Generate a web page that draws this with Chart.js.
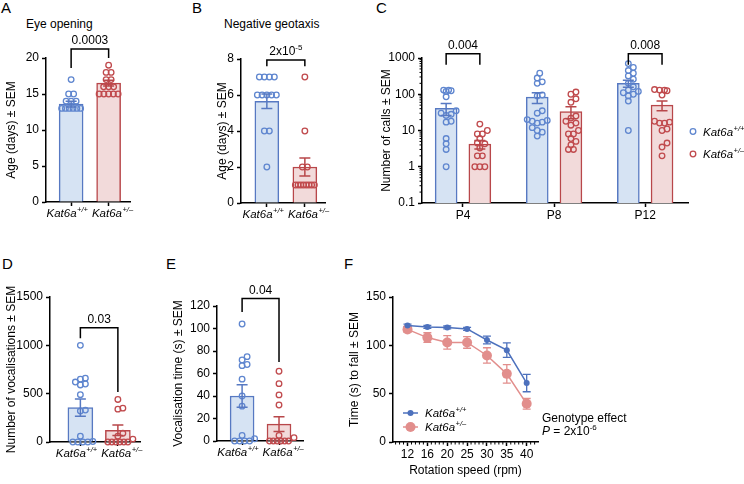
<!DOCTYPE html>
<html>
<head>
<meta charset="utf-8">
<title>Kat6a phenotypes</title>
<script src="https://cdn.jsdelivr.net/npm/chart.js@4.4.1/dist/chart.umd.min.js"></script>
<style>
  body { margin: 0; background: #fff; }
  #fig { position: relative; width: 744px; height: 484px; overflow: hidden;
         font-family: 'Liberation Sans', Arial, Helvetica, sans-serif; color: #000; }
  #fig canvas { position: absolute; left: 0; top: 0; }
  .lab { position: absolute; font-size: 15px; line-height: 15px; }
  .ttl { position: absolute; font-size: 12px; line-height: 12px; white-space: nowrap; }
</style>
</head>
<body>
<div id="fig">
  <div class="lab" style="left:1px;top:0px">A</div>
  <div class="lab" style="left:192px;top:0px">B</div>
  <div class="lab" style="left:376px;top:0px">C</div>
  <div class="lab" style="left:2px;top:256px">D</div>
  <div class="lab" style="left:166px;top:256px">E</div>
  <div class="lab" style="left:344px;top:256px">F</div>
  <div class="ttl" style="left:26px;top:18px">Eye opening</div>
  <div class="ttl" style="left:224px;top:18px">Negative geotaxis</div>
  <canvas id="chartA" width="744" height="484"></canvas>
  <canvas id="chartB" width="744" height="484"></canvas>
  <canvas id="chartC" width="744" height="484"></canvas>
  <canvas id="chartD" width="744" height="484"></canvas>
  <canvas id="chartE" width="744" height="484"></canvas>
  <canvas id="chartF" width="744" height="484"></canvas>
</div>
<script>
// genotype superscripts
const genoSup = ['+/+', '+/\u2013'];

// A - eye opening (days)
const eyeMean = [13.6, 16.5];
const eyeSem = [0.4, 0.4];
const eyeWT = [17, 15, 15, 14, 14, 14, 13, 13, 13, 13, 13, 13];
const eyeHet = [19, 18, 18, 17, 17, 16, 16, 16, 15, 15, 15, 15, 15];

// B - negative geotaxis (days)
const geoMean = [5.65, 2.0];
const geoSem = [0.4, 0.5];
const geoWT = [7, 7, 7, 7, 6, 6, 6, 6, 6, 4, 4, 2];
const geoHet = [7, 4, 2, 2, 1, 1, 1, 1, 1, 1, 1, 1];

// C - number of calls
const ages = ['P4', 'P8', 'P12'];
const callsMeanWT = [41, 83, 200];
const callsSemWT = [15, 27, 45];
const callsMeanHet = [4.2, 33, 50];
const callsSemHet = [1.1, 12, 15];
const callsWT = [
  [130, 130, 125, 120, 85, 35, 30, 28, 26, 18, 17, 6, 4.3, 3, 1],
  [380, 280, 220, 200, 95, 90, 35, 30, 20, 19, 18, 17, 16, 12, 10, 9, 7],
  [700, 550, 450, 380, 320, 260, 200, 160, 130, 120, 110, 100, 90, 65, 10]
];
const callsHet = [
  [15, 10, 8, 8, 6, 4.5, 4.3, 3.3, 2, 2, 1, 1, 1],
  [115, 100, 75, 60, 25, 22, 18, 16, 14, 10, 8, 8, 6, 5, 4, 3, 3],
  [135, 130, 130, 125, 95, 18, 17, 16, 16, 11, 10, 4.5, 3.5, 2]
];

// D - number of vocalisations
const vocMean = [356, 121];
const vocSem = [90, 55];
const vocWT = [1000, 660, 650, 620, 600, 590, 490, 330, 320, 60, 5, 0, 0, 0, 0];
const vocHet = [440, 350, 340, 90, 60, 30, 0, 0, 0, 0, 0, 0];

// E - vocalisation time (s)
const timeMean = [40, 15];
const timeSem = [10, 6.5];
const timeWT = [104, 75, 72, 68, 67, 55, 40, 31, 5, 2, 0, 0, 0, 0];
const timeHet = [62, 51, 41, 32, 5, 3, 0, 0, 0, 0, 0, 0];

// F - rotarod
const speeds = [12, 16, 20, 25, 30, 35, 40];
const fallWT = [120.5, 119, 118.5, 117, 105.5, 95, 61];
const fallWTSem = [1.5, 1.5, 1.5, 1.5, 4, 7.5, 9];
const fallHet = [116.5, 108, 103, 103, 89.5, 70.5, 39.5];
const fallHetSem = [3, 5, 7, 6, 8, 9.5, 5.5];

const FONT = "'Liberation Sans', Arial, Helvetica, sans-serif";
Chart.defaults.font.family = FONT;
Chart.defaults.font.size = 12;
Chart.defaults.color = '#000';

const WT = {line: '#5779c2', fill: '#d6e3f3', dot: '#5f86cf'};
const HET = {line: '#b8474a', fill: '#f2dada', dot: '#c04a4d'};
const F_BLUE = '#4d71bd';
const F_RED = '#e28e8c';

// place the chart area: y axis line at axisX, title centred at titleX
function frame(axisX, top, right, bottom, titleX, xH) {
  const half = 7.2;
  return {
    yW: axisX - (titleX - half),
    xH: xH,
    padding: {left: titleX - half, top: top, right: 744 - right, bottom: 484 - bottom - xH}
  };
}

function yAxis(fr, title, extra) {
  return Object.assign({
    position: 'left',
    afterFit: s => { s.width = fr.yW; },
    border: {color: '#000', width: 1.5},
    grid: {drawOnChartArea: false, color: '#000', tickLength: 4, tickWidth: 1.5},
    ticks: {padding: 3, color: '#000', font: {size: 12}},
    title: {display: true, text: title, padding: 0, font: {size: 12}}
  }, extra);
}

function xAxis(fr, min, max, tickVals, labelFn, extra) {
  return Object.assign({
    type: 'linear', min: min, max: max, offset: false,
    afterFit: s => { s.height = fr.xH; },
    afterBuildTicks: s => { s.ticks = tickVals.map(v => ({value: v})); },
    border: {color: '#000', width: 1.5},
    grid: {drawOnChartArea: false, offset: false, color: '#000', tickLength: 4, tickWidth: 1.5},
    ticks: {callback: labelFn, padding: 1, autoSkip: false, maxRotation: 0, color: '#000', font: {size: 12}}
  }, extra);
}

// "Kat6a" in italics with a raised genotype
function genoWidth(ctx, sup) {
  ctx.font = 'italic 11.5px ' + FONT;
  const w1 = ctx.measureText('Kat6a').width;
  ctx.font = 'italic 7.5px ' + FONT;
  return w1 + 0.5 + ctx.measureText(sup).width;
}
function drawGeno(ctx, x, y, sup) {
  ctx.save();
  ctx.fillStyle = '#000';
  ctx.textAlign = 'left';
  ctx.textBaseline = 'alphabetic';
  ctx.font = 'italic 11.5px ' + FONT;
  ctx.fillText('Kat6a', x, y);
  const w1 = ctx.measureText('Kat6a').width;
  ctx.font = 'italic 7.5px ' + FONT;
  ctx.fillText(sup, x + w1 + 0.5, y - 5);
  ctx.restore();
}

// text with an optional superscript tail, centred at x
function drawSupText(ctx, x, y, main, sup) {
  ctx.save();
  ctx.fillStyle = '#000';
  ctx.textAlign = 'left';
  ctx.textBaseline = 'alphabetic';
  ctx.font = '12px ' + FONT;
  const w1 = ctx.measureText(main).width;
  ctx.font = '8px ' + FONT;
  const w2 = sup ? ctx.measureText(sup).width : 0;
  const x0 = x - (w1 + w2) / 2;
  ctx.font = '12px ' + FONT;
  ctx.fillText(main, x0, y);
  if (sup) { ctx.font = '8px ' + FONT; ctx.fillText(sup, x0 + w1, y - 5); }
  ctx.restore();
}

function drawBracket(ctx, xs, ys, b) {
  const x0 = xs.getPixelForValue(b.from), x1 = xs.getPixelForValue(b.to);
  const yt = ys.getPixelForValue(b.top);
  const y0 = ys.getPixelForValue(b.legs[0]), y1 = ys.getPixelForValue(b.legs[1]);
  ctx.save();
  ctx.strokeStyle = '#000';
  ctx.lineWidth = 1.5;
  ctx.beginPath();
  ctx.moveTo(x0, y0); ctx.lineTo(x0, yt); ctx.lineTo(x1, yt); ctx.lineTo(x1, y1);
  ctx.stroke();
  ctx.restore();
  drawSupText(ctx, (x0 + x1) / 2, yt - 5, b.text, b.sup);
}

// simple beeswarm: equal values form centred rows, others dodge sideways
function swarm(chart, center, values, maxW) {
  const xs = chart.scales.x, ys = chart.scales.y;
  const cx = xs.getPixelForValue(center);
  const step = 5;
  const sorted = values.slice().sort((a, b) => a - b);
  const placed = [];
  let i = 0;
  while (i < sorted.length) {
    let j = i;
    while (j < sorted.length && sorted[j] === sorted[i]) j++;
    const n = j - i;
    const py = ys.getPixelForValue(sorted[i]);
    if (n > 1) {
      const sp = Math.min(step, maxW / (n - 1));
      for (let k = 0; k < n; k++) placed.push({px: cx + (k - (n - 1) / 2) * sp, py: py, v: sorted[i]});
    } else {
      let off = 0;
      for (let k = 0; k < 40; k++) {
        off = (k % 2 ? 1 : -1) * Math.ceil(k / 2) * step / 2;
        const ok = placed.every(p => Math.hypot(p.px - cx - off, p.py - py) >= step);
        if (ok) break;
      }
      placed.push({px: cx + off, py: py, v: sorted[i]});
    }
    i = j;
  }
  return placed.map(p => ({x: xs.getValueForPixel(p.px), y: p.v}));
}

// bar + dots panel
function barPanel(id, fr, xr, yScale, groups, opts) {
  const decor = {
    id: 'decor',
    afterDatasetsDraw(chart) {
      const {ctx, scales: {x: xs, y: ys}} = chart;
      ctx.save();
      ctx.lineWidth = 1.5;
      groups.forEach(g => {
        const px = xs.getPixelForValue(g.x);
        const hi = ys.getPixelForValue(g.mean + g.sem);
        const lo = ys.getPixelForValue(g.mean - g.sem);
        ctx.strokeStyle = g.col.line;
        ctx.beginPath();
        ctx.moveTo(px, hi); ctx.lineTo(px, lo);
        ctx.moveTo(px - 5.5, hi); ctx.lineTo(px + 5.5, hi);
        ctx.moveTo(px - 5.5, lo); ctx.lineTo(px + 5.5, lo);
        ctx.stroke();
      });
      ctx.restore();
      (opts.brackets || []).forEach(b => drawBracket(ctx, xs, ys, b));
      if (opts.genoLabels) {
        const base = chart.chartArea.bottom + 15;
        const c0 = xs.getPixelForValue(groups[0].x), c1 = xs.getPixelForValue(groups[1].x);
        const w0 = genoWidth(ctx, genoSup[0]), w1 = genoWidth(ctx, genoSup[1]);
        let l0 = c0 - w0 / 2, l1 = c1 - w1 / 2;
        const gap = l1 - (l0 + w0);
        if (gap < 4) { l0 -= (4 - gap) / 2; l1 += (4 - gap) / 2; }
        drawGeno(ctx, l0, base, genoSup[0]);
        drawGeno(ctx, l1, base, genoSup[1]);
      }
      if (opts.extra) opts.extra(chart);
    }
  };
  const datasets = [{
    type: 'bar', order: 2,
    data: groups.map(g => ({x: g.x, y: g.mean})),
    backgroundColor: groups.map(g => g.col.fill),
    borderColor: groups.map(g => g.col.line),
    borderWidth: 1.5, borderSkipped: 'start', barThickness: opts.barW
  }].concat(groups.map(g => ({
    type: 'scatter', order: 1, clip: false,
    data: g.dots.map(v => ({x: g.x, y: v})),
    pointRadius: 2.8, pointBorderWidth: 1.3,
    pointBorderColor: g.col.dot, pointBackgroundColor: 'rgba(0,0,0,0)'
  })));
  const chart = new Chart(document.getElementById(id), {
    type: 'bar',
    data: {datasets: datasets},
    options: {
      responsive: false, animation: false, devicePixelRatio: 1,
      layout: {padding: fr.padding},
      plugins: {legend: {display: false}, tooltip: {enabled: false}},
      scales: {
        x: xAxis(fr, xr[0], xr[1], opts.xTicks, opts.xLabel || (() => '')),
        y: yScale
      }
    },
    plugins: [decor]
  });
  groups.forEach((g, k) => {
    chart.data.datasets[k + 1].data = swarm(chart, g.x, g.dots, opts.barW - 5);
  });
  chart.update('none');
  return chart;
}

function pair(means, sems, wt, het) {
  return [
    {x: 0, mean: means[0], sem: sems[0], dots: wt, col: WT},
    {x: 1, mean: means[1], sem: sems[1], dots: het, col: HET}
  ];
}

const plainTicks = step => ({stepSize: step, padding: 3, font: {size: 12}, callback: v => String(v)});

// ---- A ----
const frA = frame(46, 58, 130, 202, 12, 22);
barPanel('chartA', frA, [-0.67, 1.57],
  yAxis(frA, 'Age (days) \u00b1 SEM', {min: 0, max: 20, ticks: plainTicks(5)}),
  pair(eyeMean, eyeSem, eyeWT, eyeHet),
  {barW: 24, xTicks: [0, 1], genoLabels: true,
   brackets: [{from: 0, to: 1, top: 21.25, legs: [18.6, 20], text: '0.0003'}]});

// ---- B ----
const frB = frame(241, 59, 325, 203, 223, 22);
barPanel('chartB', frB, [-0.68, 1.53],
  yAxis(frB, 'Age (days) \u00b1 SEM', {min: 0, max: 8, ticks: plainTicks(2)}),
  pair(geoMean, geoSem, geoWT, geoHet),
  {barW: 24, xTicks: [0, 1], genoLabels: true,
   brackets: [{from: 0, to: 1, top: 7.94, legs: [7.6, 7.6], text: '2x10', sup: '-5'}]});

// ---- C ----
const frC = frame(422, 58, 688, 203, 387, 22);
const cGroups = [];
ages.forEach((a, i) => {
  cGroups.push({x: i - 0.185, mean: callsMeanWT[i], sem: callsSemWT[i], dots: callsWT[i], col: WT});
  cGroups.push({x: i + 0.185, mean: callsMeanHet[i], sem: callsSemHet[i], dots: callsHet[i], col: HET});
});
barPanel('chartC', frC, [-0.45, 2.47],
  yAxis(frC, 'Number of calls \u00b1 SEM', {
    type: 'logarithmic', min: 0.1, max: 1000,
    afterBuildTicks: s => { s.ticks = [0.1, 1, 10, 100, 1000].map(v => ({value: v})); },
    ticks: {callback: v => String(v), padding: 3, font: {size: 12}}
  }),
  cGroups,
  {barW: 22, xTicks: [0, 1, 2], xLabel: v => ages[v],
   brackets: [
     {from: 0 - 0.185, to: 0 + 0.185, top: 1300, legs: [650, 650], text: '0.004'},
     {from: 2 - 0.185, to: 2 + 0.185, top: 1300, legs: [650, 650], text: '0.008'}
   ],
   extra: chart => {
     const {ctx, chartArea, scales: {y: ys}} = chart;
     ctx.save();
     // minor log ticks
     ctx.strokeStyle = '#000';
     ctx.lineWidth = 1;
     for (let d = -1; d < 3; d++) {
       for (let k = 2; k < 10; k++) {
         const py = ys.getPixelForValue(k * Math.pow(10, d));
         ctx.beginPath(); ctx.moveTo(chartArea.left - 2.5, py); ctx.lineTo(chartArea.left, py); ctx.stroke();
       }
     }
     // legend
     const lx = chartArea.right + 5;
     [[WT, genoSup[0], 131.5], [HET, genoSup[1], 154]].forEach(([col, sup, ly]) => {
       ctx.strokeStyle = col.dot;
       ctx.lineWidth = 1.3;
       ctx.beginPath(); ctx.arc(lx, ly, 2.8, 0, Math.PI * 2); ctx.stroke();
       drawGeno(ctx, lx + 10, ly + 4, sup);
     });
     ctx.restore();
   }});

// ---- D ----
const frD = frame(50, 297, 140, 442, 11.5, 22);
barPanel('chartD', frD, [-0.81, 1.59],
  yAxis(frD, 'Number of vocalisations \u00b1 SEM', {min: 0, max: 1500, ticks: plainTicks(500)}),
  pair(vocMean, vocSem, vocWT, vocHet),
  {barW: 25, xTicks: [0, 1], genoLabels: true,
   brackets: [{from: 0, to: 1, top: 1183, legs: [1073, 517], text: '0.03'}]});

// ---- E ----
const frE = frame(217, 306, 303, 441, 179, 22);
barPanel('chartE', frE, [-0.68, 1.65],
  yAxis(frE, 'Vocalisation time (s) \u00b1 SEM', {min: 0, max: 120, ticks: plainTicks(20)}),
  pair(timeMean, timeSem, timeWT, timeHet),
  {barW: 24, xTicks: [0, 1], genoLabels: true,
   brackets: [{from: 0, to: 1, top: 126.6, legs: [114.7, 70.3], text: '0.04'}]});

// ---- F ----
const frF = frame(393, 297, 538, 442, 355, 35.5);
const fDecor = {
  id: 'fDecor',
  beforeDatasetsDraw(chart) {
    const {ctx, scales: {x: xs, y: ys}} = chart;
    ctx.save();
    ctx.lineWidth = 1.3;
    [[fallHet, fallHetSem, F_RED], [fallWT, fallWTSem, F_BLUE]].forEach(([m, e, c]) => {
      ctx.strokeStyle = c;
      m.forEach((v, i) => {
        const px = xs.getPixelForValue(i);
        const hi = ys.getPixelForValue(v + e[i]), lo = ys.getPixelForValue(v - e[i]);
        ctx.beginPath();
        ctx.moveTo(px, hi); ctx.lineTo(px, lo);
        ctx.moveTo(px - 4, hi); ctx.lineTo(px + 4, hi);
        ctx.moveTo(px - 4, lo); ctx.lineTo(px + 4, lo);
        ctx.stroke();
      });
    });
    ctx.restore();
  },
  afterDraw(chart) {
    const {ctx, chartArea, scales: {x: xs}} = chart;
    ctx.save();
    // minor ticks along the x axis
    ctx.strokeStyle = '#000';
    ctx.lineWidth = 1;
    for (let v = Math.ceil(xs.min * 5) / 5; v <= xs.max; v += 0.2) {
      if (Math.abs(v - Math.round(v)) < 0.01) continue;
      const px = xs.getPixelForValue(v);
      ctx.beginPath(); ctx.moveTo(px, chartArea.bottom); ctx.lineTo(px, chartArea.bottom + 2.5); ctx.stroke();
    }
    // legend
    const lx = chartArea.left + 10;
    [[F_BLUE, 3, genoSup[0], 413], [F_RED, 5, genoSup[1], 427]].forEach(([c, r, sup, ly]) => {
      ctx.strokeStyle = c; ctx.fillStyle = c; ctx.lineWidth = 1.5;
      ctx.beginPath(); ctx.moveTo(lx, ly); ctx.lineTo(lx + 15, ly); ctx.stroke();
      ctx.beginPath(); ctx.arc(lx + 7.5, ly, r, 0, Math.PI * 2); ctx.fill();
      drawGeno(ctx, lx + 22, ly + 4, sup);
    });
    // genotype effect note
    const tx = chartArea.right + 4;
    ctx.fillStyle = '#000';
    ctx.textAlign = 'left';
    ctx.textBaseline = 'alphabetic';
    ctx.font = '12px ' + FONT;
    ctx.fillText('Genotype effect', tx, 422);
    ctx.font = 'italic 12px ' + FONT;
    ctx.fillText('P', tx, 435);
    const wp = ctx.measureText('P').width;
    ctx.font = '12px ' + FONT;
    ctx.fillText(' = 2x10', tx + wp, 435);
    const w2 = ctx.measureText(' = 2x10').width;
    ctx.font = '8px ' + FONT;
    ctx.fillText('-6', tx + wp + w2, 430);
    ctx.restore();
  }
};
new Chart(document.getElementById('chartF'), {
  type: 'line',
  data: {
    datasets: [
      {order: 1, data: speeds.map((s, i) => ({x: i, y: fallWT[i]})),
       borderColor: F_BLUE, backgroundColor: F_BLUE, borderWidth: 1.5,
       pointRadius: 3, pointBorderWidth: 0, pointBackgroundColor: F_BLUE},
      {order: 2, data: speeds.map((s, i) => ({x: i, y: fallHet[i]})),
       borderColor: F_RED, backgroundColor: F_RED, borderWidth: 1.5,
       pointRadius: 5, pointBorderWidth: 0, pointBackgroundColor: F_RED}
    ]
  },
  options: {
    responsive: false, animation: false, devicePixelRatio: 1,
    layout: {padding: frF.padding},
    plugins: {legend: {display: false}, tooltip: {enabled: false}},
    scales: {
      x: xAxis(frF, -0.73, 6.57, [0, 1, 2, 3, 4, 5, 6], v => speeds[v], {
        title: {display: true, text: 'Rotation speed (rpm)', padding: 0, font: {size: 12}}
      }),
      y: yAxis(frF, 'Time (s) to fall \u00b1 SEM', {min: 0, max: 150, ticks: plainTicks(50)})
    }
  },
  plugins: [fDecor]
});
</script>
</body>
</html>
